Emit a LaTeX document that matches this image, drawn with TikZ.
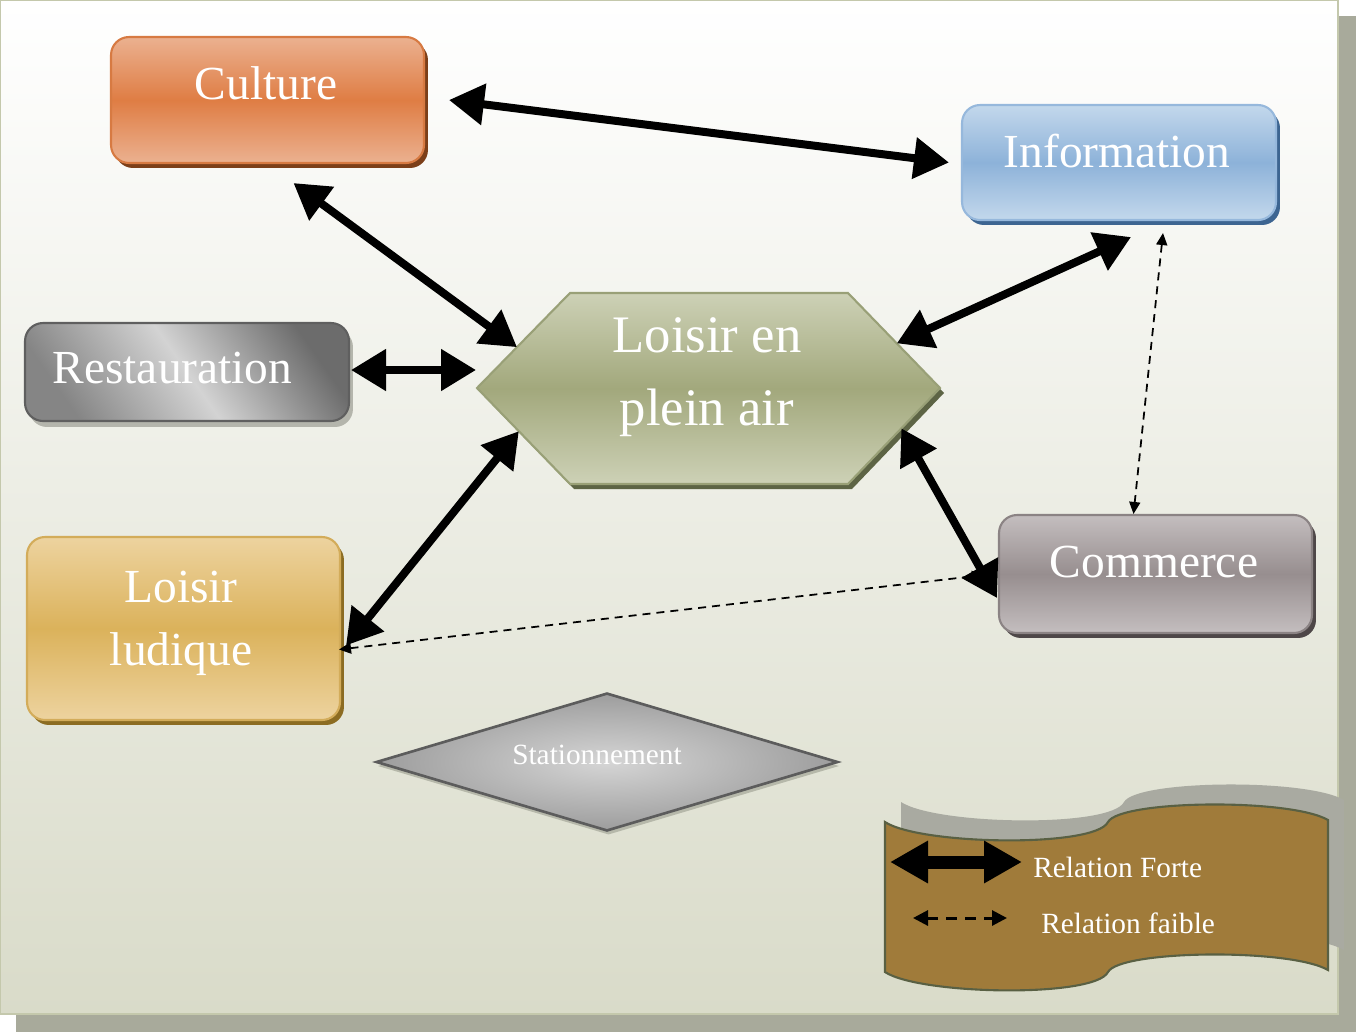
\documentclass[tikz,border=0pt]{standalone}
\usepackage{fontspec}
\setmainfont{Liberation Serif}
\usetikzlibrary{arrows.meta,calc,shapes.geometric,shadows}

\definecolor{bgbot}{HTML}{D9DBC9}
\definecolor{bgedge}{HTML}{C4C8AC}
\definecolor{framesh}{HTML}{A8AA9B}
\definecolor{cultTop}{HTML}{EBB190}
\definecolor{cultMid}{HTML}{DF7D44}
\definecolor{cultLine}{HTML}{D77A42}
\definecolor{cultSh}{HTML}{7C3F19}
\definecolor{infoTop}{HTML}{C3D8EC}
\definecolor{infoMid}{HTML}{8DB2D9}
\definecolor{infoLine}{HTML}{96B8DC}
\definecolor{infoSh}{HTML}{3D6591}
\definecolor{gldTop}{HTML}{EDD39F}
\definecolor{gldMid}{HTML}{DBB25B}
\definecolor{gldLine}{HTML}{D3AC5A}
\definecolor{gldSh}{HTML}{8C6C22}
\definecolor{comTop}{HTML}{C4BEBF}
\definecolor{comMid}{HTML}{978E8F}
\definecolor{comLine}{HTML}{8B8384}
\definecolor{comSh}{HTML}{4E4748}
\definecolor{restDark}{HTML}{6C6C6C}
\definecolor{restLight}{HTML}{D3D3D3}
\definecolor{restLow}{HTML}{858585}
\definecolor{restLine}{HTML}{5F5F5F}
\definecolor{restSh}{HTML}{B4B5AC}
\definecolor{olTop}{HTML}{CDD1B6}
\definecolor{olMid}{HTML}{A2A87C}
\definecolor{olLine}{HTML}{99A077}
\definecolor{olSh}{HTML}{5D6445}
\definecolor{statIn}{HTML}{D5D5D5}
\definecolor{statOut}{HTML}{9D9D9D}
\definecolor{statLine}{HTML}{5C5C5C}
\definecolor{statSh}{HTML}{B6B8AA}
\definecolor{banFill}{HTML}{A07B3A}
\definecolor{banLine}{HTML}{596043}
\definecolor{banSh}{HTML}{A9AAA1}

\tikzset{
  card/.style={rectangle, rounded corners=0.36cm, line width=1.2pt, inner sep=0pt},
  tint/.style n args={4}{top color=#1, bottom color=#1, middle color=#2, draw=#3,
    drop shadow={shadow xshift=0.08cm, shadow yshift=-0.1cm, fill=#4, opacity=1}},
  big/.style={text=white, font=\fontsize{27}{32}\selectfont, anchor=base, inner sep=0pt},
  huge/.style={text=white, font=\fontsize{30}{36}\selectfont, anchor=base, inner sep=0pt},
  small/.style={text=white, font=\fontsize{16.7}{20}\selectfont, anchor=base, inner sep=0pt},
  strong/.style={line width=0.16cm,
    {Triangle[length=0.7cm,width=0.8cm]}-{Triangle[length=0.7cm,width=0.8cm]}},
  weak/.style={line width=1pt, dash pattern=on 0.16cm off 0.12cm,
    {Triangle[length=0.24cm,width=0.22cm]}-{Triangle[length=0.24cm,width=0.22cm]}},
  strongkey/.style={line width=0.26cm,
    {Triangle[length=0.76cm,width=0.8cm]}-{Triangle[length=0.76cm,width=0.8cm]}},
  weakkey/.style={line width=0.06cm, dash pattern=on 0.22cm off 0.16cm,
    {Triangle[length=0.3cm,width=0.3cm]}-{Triangle[length=0.3cm,width=0.3cm]}},
}

\begin{document}
\begin{tikzpicture}[x=0.02cm, y=-0.02cm]
\useasboundingbox (0,0) rectangle (1356,1032);

% page with its shadow
\fill[framesh] (16,16) rectangle (1356,1032);
\shade[top color=white, bottom color=bgbot, draw=bgedge, line width=1pt]
  (0,0) rectangle (1338,1014);

% rounded boxes
\node[card, tint={cultTop}{cultMid}{cultLine}{cultSh},
      minimum width=6.26cm, minimum height=2.52cm] (culture) at (267.5,100) {};
\node[card, tint={infoTop}{infoMid}{infoLine}{infoSh},
      minimum width=6.28cm, minimum height=2.3cm] (info) at (1119,162.5) {};
\node[card, top color=restDark, bottom color=restLow, middle color=restLight,
      shading angle=-55, draw=restLine,
      drop shadow={shadow xshift=0.08cm, shadow yshift=-0.12cm, fill=restSh, opacity=1},
      minimum width=6.48cm, minimum height=1.96cm] (rest) at (187,372) {};
\node[card, tint={gldTop}{gldMid}{gldLine}{gldSh},
      minimum width=6.26cm, minimum height=3.66cm] (ludique) at (183.5,628.5) {};
\node[card, tint={comTop}{comMid}{comLine}{comSh},
      minimum width=6.26cm, minimum height=2.36cm] (comm) at (1155.5,574) {};

% central hexagon
\coordinate (hW) at (477,388);
\coordinate (hNW) at (570,293);
\coordinate (hNE) at (848,293);
\coordinate (hE) at (940,388);
\coordinate (hSE) at (848,484);
\coordinate (hSW) at (570,484);
\path[top color=olTop, bottom color=olTop, middle color=olMid, draw=olLine, line width=1.2pt,
      drop shadow={shadow xshift=0.08cm, shadow yshift=-0.1cm, fill=olSh, opacity=1}]
  (hW) -- (hNW) -- (hNE) -- (hE) -- (hSE) -- (hSW) -- cycle;

% parking diamond
\node[diamond, aspect=3.35, inner sep=0pt, minimum width=9.24cm, minimum height=2.76cm,
      inner color=statIn, outer color=statOut, draw=statLine, line width=1.5pt,
      drop shadow={shadow xshift=0.03cm, shadow yshift=-0.08cm, fill=statSh, opacity=1}]
  (stat) at (607,762) {};

% labels
\node[big] (tcul) at (266,99) {Culture};
\node[big] (tinfo) at (1117,167) {Information};
\node[big] (trest) at (172.5,383) {Restauration};
\node[big] (tlud1) at (181,602) {Loisir};
\node[big] (tlud2) at (181,665) {ludique};
\node[big] (tcom) at (1154,577) {Commerce};
\node[huge] (thex1) at (707,352) {Loisir en};
\node[huge] (thex2) at (707,425) {plein air};
\node[small] (tstat) at (597,764) {Stationnement};

% strong relations
\draw[strong] ($(culture.east)+(24,0)$) -- ($(info.west)+(-12,0)$);
\draw[strong] ($(culture.south)+(26,19)$) -- ($(hW)!0.43!(hNW)$);
\draw[strong] ($(rest.east)+(1,-2)$) -- ($(hW)+(-1,-18)$);
\draw[strong] ($(info.south)+(12,16)$) -- ($(hNE)!0.53!(hE)$);
\draw[strong] ($(ludique.east)+(5,17)$) -- ($(hW)!0.45!(hSW)$);
\draw[strong] ($(comm.west)+(-1,24)$) -- ($(hE)!0.42!(hSE)$);

% weak relations
\draw[weak] ($(info.south)+(44,12)$) -- ($(comm.north)+(-22,0)$);
\draw[weak] ($(ludique.east)+(-2,21)$) -- ($(comm.west)+(-14,1)$);

% legend banner
\fill[banSh, shift={(16,-20)}]
  (885,822) .. controls (920,845) and (1095,848) .. (1108,822)
  .. controls (1120,800) and (1290,798) .. (1328,820)
  -- (1328,970) .. controls (1290,948) and (1120,950) .. (1108,972)
  .. controls (1095,998) and (920,995) .. (885,972) -- cycle;
\draw[fill=banFill, draw=banLine, line width=1.2pt]
  (885,822) .. controls (920,845) and (1095,848) .. (1108,822)
  .. controls (1120,800) and (1290,798) .. (1328,820)
  -- (1328,970) .. controls (1290,948) and (1120,950) .. (1108,972)
  .. controls (1095,998) and (920,995) .. (885,972) -- cycle;

\coordinate (k1a) at (890,862);
\coordinate (k1b) at (1022,862);
\coordinate (k2a) at (913,918);
\coordinate (k2b) at (1007,918);
\draw[strongkey] (k1a) -- (k1b);
\draw[weakkey] (k2a) -- (k2b);
\node[small, anchor=base west] (tkey1) at (1033,877) {Relation Forte};
\node[small, anchor=base west] (tkey2) at (1041,933) {Relation faible};
\end{tikzpicture}
\end{document}
